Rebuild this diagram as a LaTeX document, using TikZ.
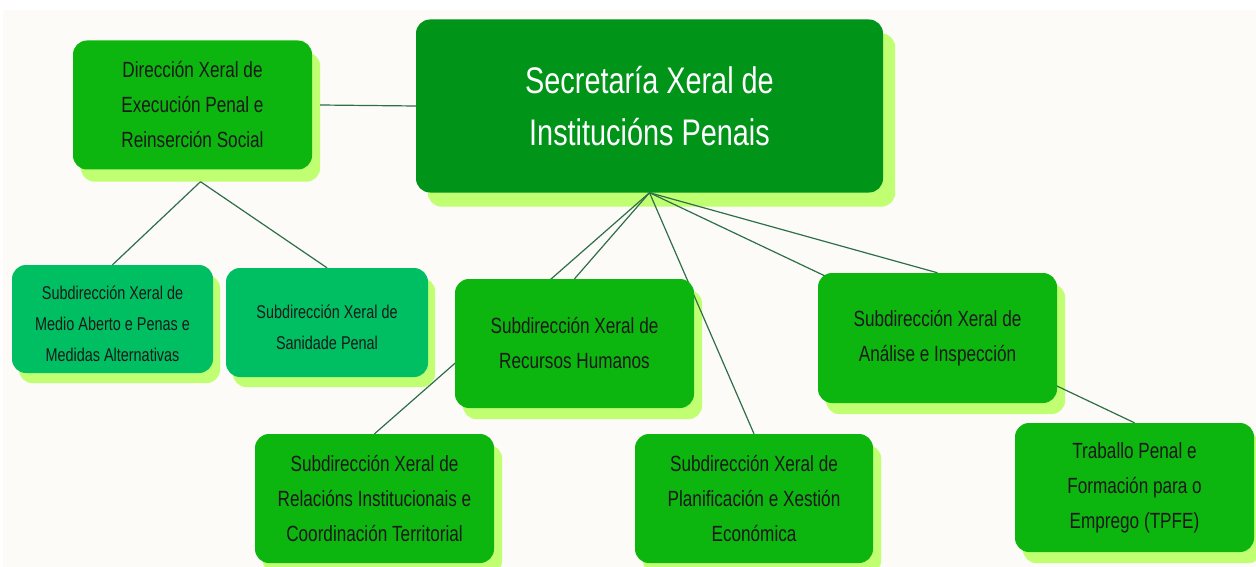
\documentclass[tikz,border=0pt]{standalone}
\usepackage{fontspec}
\setmainfont{Liberation Sans}
\newfontfamily\cf[FakeStretch=0.78]{Liberation Sans}
\usetikzlibrary{calc}
\definecolor{bgc}{HTML}{FCFBF7}
\definecolor{gmid}{HTML}{0DB60F}
\definecolor{gdark}{HTML}{009419}
\definecolor{gteal}{HTML}{00BF63}
\definecolor{shad}{HTML}{C1FF72}
\definecolor{linec}{HTML}{2E6E48}
\pgfdeclarelayer{bg}
\pgfdeclarelayer{shadows}
\pgfdeclarelayer{edges}
\pgfsetlayers{bg,shadows,edges,main}
\begin{document}
\begin{tikzpicture}[x=1pt,y=-1pt,
  box/.style={rectangle, rounded corners=14pt, fill=gmid, text=black!90, align=center,
    inner sep=0pt, minimum width=239pt, minimum height=129pt,
    font=\cf\fontsize{22}{35}\selectfont},
  tealbox/.style={box, fill=gteal, minimum width=201pt, minimum height=108pt,
    font=\cf\fontsize{18.5}{31}\selectfont},
  topbox/.style={box, fill=gdark, text=white, minimum width=467pt, minimum height=173pt,
    font=\cf\fontsize{37}{52}\selectfont},
  shadowbox/.style={fill=shad, rounded corners=14pt},
  edge/.style={draw=linec, line width=1.2pt}
]
\useasboundingbox (0,0) rectangle (1256,567);
\begin{pgfonlayer}{bg}
  \fill[white] (0,0) rectangle (1256,567);
  \fill[bgc] (3,10) rectangle (1256,567);
\end{pgfonlayer}

\node[topbox] (SX) at (649.5,106) {Secretaría Xeral de\\Institucións Penais};
\node[box] (DX) at (192.5,105) {Dirección Xeral de\\Execución Penal e\\Reinserción Social};
\node[tealbox] (MA) at (112.5,319) {\rule{0pt}{23pt}Subdirección Xeral de\\Medio Aberto e Penas e\\Medidas Alternativas};
\node[tealbox, minimum width=202pt, minimum height=109pt] (SA) at (327,322.5) {\rule{0pt}{23pt}Subdirección Xeral de\\Sanidade Penal};
\node[box] (RH) at (574.5,343.5) {Subdirección Xeral de\\Recursos Humanos};
\node[box] (RE) at (374.5,498.5) {Subdirección Xeral de\\Relacións Institucionais e\\Coordinación Territorial};
\node[box, minimum width=238pt] (PL) at (754,498.5) {Subdirección Xeral de\\Planificación e Xestión\\Económica};
\node[box, minimum height=130pt] (AN) at (937.5,338) {Subdirección Xeral de\\Análise e Inspección};
\node[box] (TP) at (1134.5,487.5) {Traballo Penal e\\Formación para o\\Emprego (TPFE)};

\begin{pgfonlayer}{shadows}
  \foreach \n/\dx/\dy in {SX/12/14, DX/8/12, MA/7/10, SA/7/10, RH/8/11, RE/8/11, PL/8/11, AN/8/11, TP/8/11}
    \fill[shadowbox] ($(\n.south west)+(\dx,\dy)$) rectangle ($(\n.north east)+(\dx,\dy)$);
\end{pgfonlayer}

\coordinate (DXs) at ($(DX.south)+(8,12)$);
\coordinate (DXe) at ($(DX.east)+(8,0)$);

\begin{pgfonlayer}{edges}
  \draw[edge] (DXe) -- (SX.west);
  \draw[edge] (DXs) -- (MA.north);
  \draw[edge] (DXs) -- (SA.north);
  \draw[edge] (SX.south) -- (RH.north);
  \draw[edge] (SX.south) -- (RE.north);
  \draw[edge] (SX.south) -- (PL.north);
  \draw[edge] (SX.south) -- (AN.north);
  \draw[edge] (SX.south) -- (TP.north);
\end{pgfonlayer}
\end{tikzpicture}
\end{document}
